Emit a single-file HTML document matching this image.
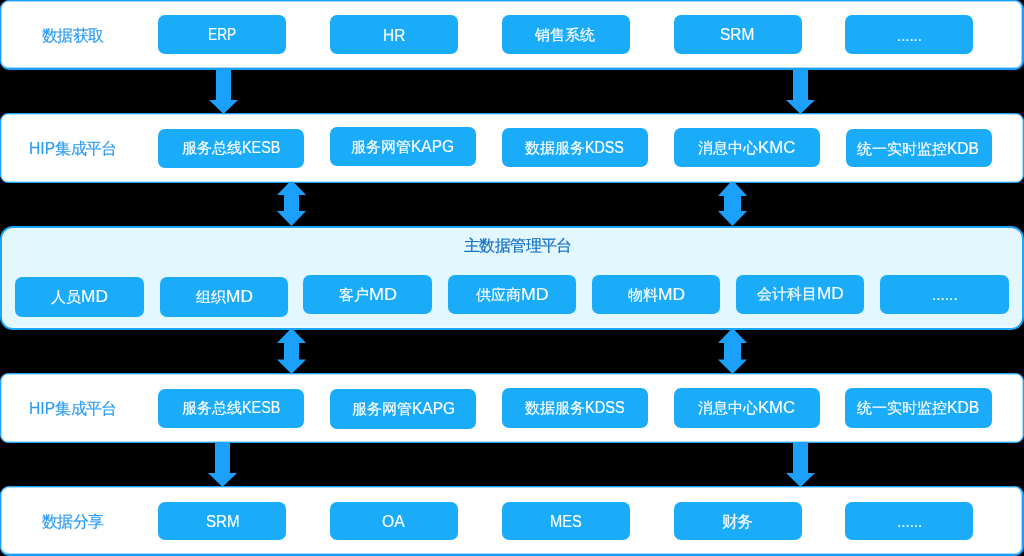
<!DOCTYPE html>
<html><head><meta charset="utf-8">
<style>
html,body{margin:0;padding:0;background:#000;width:1024px;height:556px;overflow:hidden;}
body{position:relative;font-family:"Liberation Sans",sans-serif;}
.p{position:absolute;left:0;width:1024px;box-sizing:border-box;background:#fff;border:1px solid #1a9ffa;border-bottom-width:2px;border-right-width:2px;border-radius:9px;box-shadow:inset 0 0 0 1px rgba(27,160,250,0.4);}
.p2{border:1px solid #1fa2fa;border-radius:8px;box-shadow:inset 0 0 0 1px rgba(27,160,250,0.35);}
.p3{background:#e3f7fe;border:2px solid #1ba6fa;border-radius:13px;box-shadow:inset 0 0 0 1px #effaff;}
.b{position:absolute;box-sizing:border-box;background:#1aacf9;border-radius:7px;}
.tw,.tb,.tt{position:absolute;white-space:nowrap;font-size:16px;line-height:20px;-webkit-text-stroke:0.16px currentColor;will-change:transform;}
.tw{color:#fff;}
.tb{color:#2b9cf2;}
.tt{color:#1671c2;font-size:16px;-webkit-text-stroke:0.22px currentColor;}
.tt .c{font-size:16px;letter-spacing:-0.6px;}
.lat{display:inline-block;transform-origin:0 0;}
svg{position:absolute;left:0;top:0;}
.lat{display:inline-block;vertical-align:top;}
.li{display:inline-block;transform-origin:0 0;}
.c{font-size:15.4px;}
.tb .c{font-size:16px;letter-spacing:-0.7px;}
#r5d .c{font-size:16px;letter-spacing:-1px;}
</style></head><body>
<svg width="1024" height="556">
<g fill="#1ba1fb">
<polygon points="216,68 231,68 231,100 238,100 223.5,114 209,100 216,100"/>
<polygon points="793,68 808,68 808,100 815,100 800.5,114 786,100 793,100"/>
<polygon points="291.5,180 306,195 299,195 299,211 306,211 291.5,226 277,211 284,211 284,195 277,195"/>
<polygon points="732.5,180 747,196 741,196 741,211 747,211 732.5,226 718,211 724,211 724,196 718,196"/>
<polygon points="291.5,328 306,343 299,343 299,359.5 306,359.5 291.5,374 277,359.5 284,359.5 284,343 277,343"/>
<polygon points="732.5,328 747,343 741,343 741,359.5 747,359.5 732.5,374 718,359.5 724,359.5 724,343 718,343"/>
<polygon points="215,441 230,441 230,473 237,473 222.5,487 208,473 215,473"/>
<polygon points="793,441 808,441 808,473 815,473 800.5,487 786,473 793,473"/>
</g>
</svg>

<div class="p p1" style="top:0;height:70px;"></div>
<div class="p p2" style="top:113px;height:69.5px;"></div>
<div class="p p3" style="top:226px;height:103.5px;"></div>
<div class="p p2" style="top:373px;height:69.5px;"></div>
<div class="p p1" style="top:486.3px;height:69.7px;"></div>

<div class="b" style="left:158px;top:15px;width:128px;height:39px;"></div>
<div class="b" style="left:330px;top:15px;width:128px;height:39px;"></div>
<div class="b" style="left:502px;top:15px;width:128px;height:39px;"></div>
<div class="b" style="left:674px;top:15px;width:128px;height:39px;"></div>
<div class="b" style="left:845px;top:15px;width:128px;height:39px;"></div>
<div class="b" style="left:158px;top:128.5px;width:146px;height:39px;"></div>
<div class="b" style="left:330px;top:126.6px;width:146px;height:39.4px;"></div>
<div class="b" style="left:502px;top:128.2px;width:146px;height:39.2px;"></div>
<div class="b" style="left:674px;top:128.2px;width:146px;height:38.6px;"></div>
<div class="b" style="left:845.5px;top:128.6px;width:146px;height:38.5px;"></div>
<div class="b" style="left:15px;top:277px;width:129px;height:39.5px;"></div>
<div class="b" style="left:160px;top:277px;width:128px;height:39.8px;"></div>
<div class="b" style="left:303.3px;top:274.8px;width:128.7px;height:39.2px;"></div>
<div class="b" style="left:448px;top:274.8px;width:128.2px;height:39.2px;"></div>
<div class="b" style="left:592px;top:274.8px;width:127.8px;height:39.2px;"></div>
<div class="b" style="left:736.4px;top:274.8px;width:127.8px;height:39.2px;"></div>
<div class="b" style="left:880px;top:274.8px;width:128.8px;height:39.3px;"></div>
<div class="b" style="left:158px;top:388.5px;width:146px;height:39px;"></div>
<div class="b" style="left:330.2px;top:389.2px;width:146.2px;height:39.5px;"></div>
<div class="b" style="left:502px;top:388.3px;width:145.8px;height:39.6px;"></div>
<div class="b" style="left:674px;top:388.3px;width:146px;height:39.6px;"></div>
<div class="b" style="left:845.4px;top:388.3px;width:146.4px;height:39.6px;"></div>
<div class="b" style="left:158px;top:501.7px;width:128px;height:38.8px;"></div>
<div class="b" style="left:330px;top:501.7px;width:128px;height:38.8px;"></div>
<div class="b" style="left:502px;top:501.7px;width:128px;height:38.8px;"></div>
<div class="b" style="left:674px;top:501.7px;width:128px;height:38.8px;"></div>
<div class="b" style="left:845px;top:501.7px;width:128px;height:38.8px;"></div>
<div class="tb" id="l1" style="left:41.90px;top:25.50px;"><span class="c">数据获取</span></div>
<div class="tw" id="r1a" style="left:208.10px;top:25.20px;"><span class="lat" style="width:28.37px"><span class="li" style="transform:scaleX(0.8597)">ERP</span></span></div>
<div class="tw" id="r1b" style="left:383.20px;top:25.70px;"><span class="lat" style="width:22.20px"><span class="li" style="transform:scaleX(0.9652)">HR</span></span></div>
<div class="tw" id="r1c" style="left:535.20px;top:25.20px;"><span class="c">销售系统</span></div>
<div class="tw" id="r1d" style="left:719.70px;top:25.20px;"><span class="lat" style="width:34.79px"><span class="li" style="transform:scaleX(0.9663)">SRM</span></span></div>
<div class="tw" id="r1e" style="left:896.60px;top:25.70px;"><span class="lat" style="width:25.20px"><span class="li" style="transform:scaleX(0.9334)">......</span></span></div>
<div class="tb" id="l2" style="left:29.10px;top:138.60px;"><span class="lat" style="width:26.40px"><span class="li" style="transform:scaleX(0.9778)">HIP</span></span><span class="c">集成平台</span></div>
<div class="tw" id="r2a" style="left:182.00px;top:138.00px;"><span class="c">服务总线</span><span class="lat" style="width:38.64px"><span class="li" style="transform:scaleX(0.8986)">KESB</span></span></div>
<div class="tw" id="r2b" style="left:351.40px;top:136.70px;"><span class="c">服务网管</span><span class="lat" style="width:42.64px"><span class="li" style="transform:scaleX(0.9691)">KAPG</span></span></div>
<div class="tw" id="r2c" style="left:525.10px;top:138.30px;"><span class="c">数据服务</span><span class="lat" style="width:39.22px"><span class="li" style="transform:scaleX(0.8914)">KDSS</span></span></div>
<div class="tw" id="r2d" style="left:698.00px;top:138.00px;"><span class="c">消息中心</span><span class="lat" style="width:37.74px"><span class="li" style="transform:scaleX(1.0483)">KMC</span></span></div>
<div class="tw" id="r2e" style="left:857.40px;top:138.50px;"><span class="c">统一实时监控</span><span class="lat" style="width:32.00px"><span class="li" style="transform:scaleX(0.9696)">KDB</span></span></div>
<div class="tt" id="title" style="left:463.80px;top:235.80px;"><span class="c">主数据管理平台</span></div>
<div class="tw" id="m1" style="left:51.00px;top:287.00px;"><span class="c">人员</span><span class="lat" style="width:27.00px"><span class="li" style="transform:scaleX(1.0800)">MD</span></span></div>
<div class="tw" id="m2" style="left:195.80px;top:286.50px;"><span class="c">组织</span><span class="lat" style="width:27.00px"><span class="li" style="transform:scaleX(1.0800)">MD</span></span></div>
<div class="tw" id="m3" style="left:338.80px;top:284.50px;"><span class="c">客户</span><span class="lat" style="width:28.20px"><span class="li" style="transform:scaleX(1.1280)">MD</span></span></div>
<div class="tw" id="m4" style="left:476.00px;top:284.90px;"><span class="c">供应商</span><span class="lat" style="width:27.80px"><span class="li" style="transform:scaleX(1.1120)">MD</span></span></div>
<div class="tw" id="m5" style="left:627.60px;top:284.50px;"><span class="c">物料</span><span class="lat" style="width:27.20px"><span class="li" style="transform:scaleX(1.0880)">MD</span></span></div>
<div class="tw" id="m6" style="left:757.00px;top:283.70px;"><span class="c">会计科目</span><span class="lat" style="width:26.80px"><span class="li" style="transform:scaleX(1.0720)">MD</span></span></div>
<div class="tw" id="m7" style="left:932.40px;top:284.90px;"><span class="lat" style="width:26.00px"><span class="li" style="transform:scaleX(0.9630)">......</span></span></div>
<div class="tb" id="l4" style="left:29.10px;top:398.60px;"><span class="lat" style="width:26.40px"><span class="li" style="transform:scaleX(0.9778)">HIP</span></span><span class="c">集成平台</span></div>
<div class="tw" id="r4a" style="left:182.00px;top:398.00px;"><span class="c">服务总线</span><span class="lat" style="width:38.64px"><span class="li" style="transform:scaleX(0.8986)">KESB</span></span></div>
<div class="tw" id="r4b" style="left:351.80px;top:399.10px;"><span class="c">服务网管</span><span class="lat" style="width:42.64px"><span class="li" style="transform:scaleX(0.9691)">KAPG</span></span></div>
<div class="tw" id="r4c" style="left:525.30px;top:398.20px;"><span class="c">数据服务</span><span class="lat" style="width:39.99px"><span class="li" style="transform:scaleX(0.9088)">KDSS</span></span></div>
<div class="tw" id="r4d" style="left:698.00px;top:398.40px;"><span class="c">消息中心</span><span class="lat" style="width:37.39px"><span class="li" style="transform:scaleX(1.0387)">KMC</span></span></div>
<div class="tw" id="r4e" style="left:857.40px;top:397.90px;"><span class="c">统一实时监控</span><span class="lat" style="width:32.41px"><span class="li" style="transform:scaleX(0.9821)">KDB</span></span></div>
<div class="tb" id="l5" style="left:42.30px;top:512.10px;"><span class="c">数据分享</span></div>
<div class="tw" id="r5a" style="left:205.80px;top:512.10px;"><span class="lat" style="width:34.00px"><span class="li" style="transform:scaleX(0.9444)">SRM</span></span></div>
<div class="tw" id="r5b" style="left:382.00px;top:511.60px;"><span class="lat" style="width:22.56px"><span class="li" style="transform:scaleX(0.9808)">OA</span></span></div>
<div class="tw" id="r5c" style="left:549.60px;top:511.80px;"><span class="lat" style="width:32.00px"><span class="li" style="transform:scaleX(0.9143)">MES</span></span></div>
<div class="tw" id="r5d" style="left:721.60px;top:512.00px;"><span class="c">财务</span></div>
<div class="tw" id="r5e" style="left:897.30px;top:511.60px;"><span class="lat" style="width:25.60px"><span class="li" style="transform:scaleX(0.9482)">......</span></span></div>
</body></html>
